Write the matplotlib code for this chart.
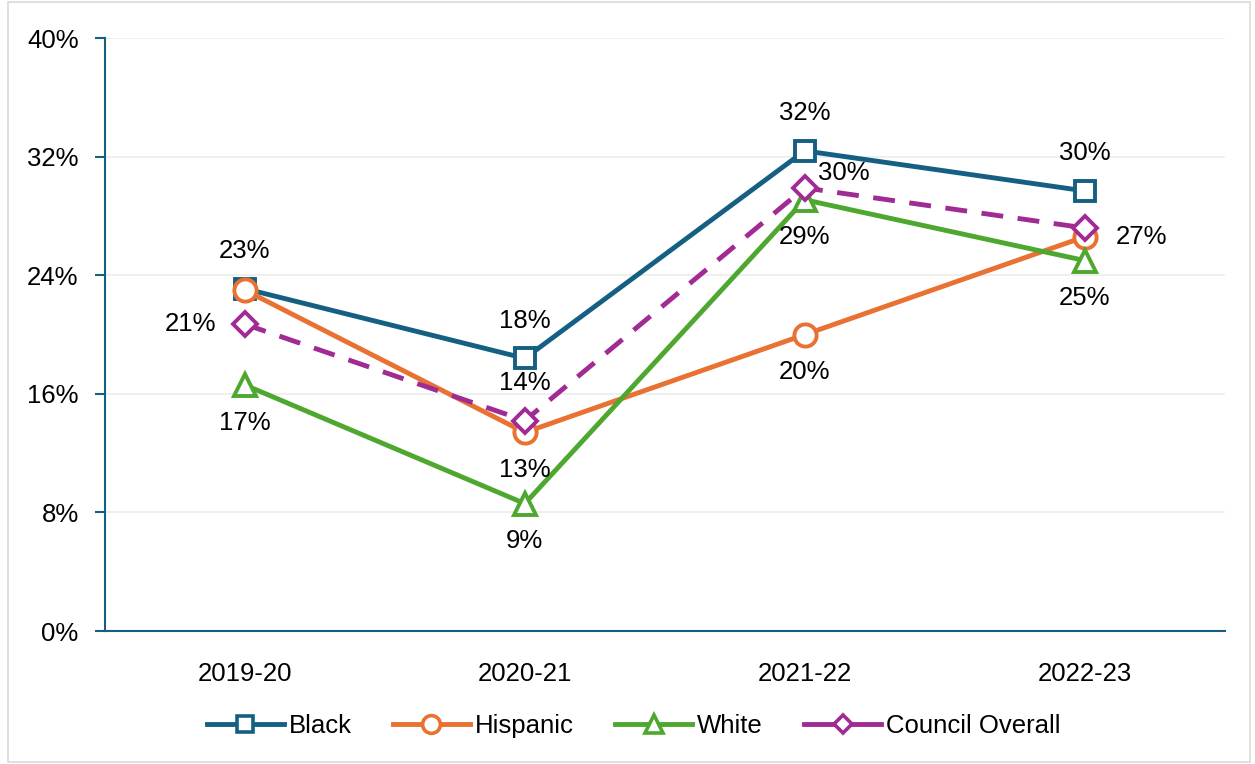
import matplotlib.pyplot as plt
from matplotlib.patches import Rectangle
from matplotlib.lines import Line2D
import numpy as np

years = ["2019-20", "2020-21", "2021-22", "2022-23"]
black = [23.1, 18.4, 32.4, 29.7]
hispanic = [23.0, 13.4, 20.0, 26.6]
white = [16.6, 8.6, 29.1, 25.0]
council = [20.7, 14.2, 29.9, 27.2]

# label placement per point, None means no label
black_pos = ["above", "above", "above", "above"]
hispanic_pos = [None, "below", "below", "right"]
white_pos = ["below", "below", "below", "below"]
council_pos = ["left", "above", "upright", None]

plt.rcParams["font.family"] = ["Liberation Sans", "DejaVu Sans"]

fig = plt.figure(figsize=(12.55, 7.64), dpi=100)
ax = fig.add_axes([0.0837, 0.174, 0.892, 0.776])

fig.patches.append(Rectangle((0.006, 0.003), 0.99, 0.994, transform=fig.transFigure,
                             fill=False, edgecolor="#d9d9d9", linewidth=1.2))

x = np.arange(len(years))
series = [
    ("Black", black, black_pos, "#156082", "s", "-"),
    ("Hispanic", hispanic, hispanic_pos, "#E97132", "o", "-"),
    ("White", white, white_pos, "#4EA72E", "^", "-"),
    ("Council Overall", council, council_pos, "#A02B93", "D", (0, (4.5, 3))),
]

offsets = {"above": (0, 27), "below": (0, -27), "left": (-39, 0),
           "right": (41, 0), "upright": (28, 11)}

handles = []
for name, vals, pos, col, mk, ls in series:
    ms = {"s": 15, "o": 16, "^": 16, "D": 12}[mk]
    ax.plot(x, vals, color=col, linewidth=3.5, linestyle=ls, marker=mk,
            markersize=ms, markerfacecolor="white", markeredgecolor=col,
            markeredgewidth=2.8, zorder=3)
    handles.append(Line2D([], [], color=col, linewidth=3.5, linestyle="-", marker=mk,
                          markersize=ms * 0.8, markerfacecolor="white",
                          markeredgecolor=col, markeredgewidth=2.6))
    for xi, v, p in zip(x, vals, pos):
        if p is None:
            continue
        ax.annotate(f"{v:.0f}%", (xi, v), xytext=offsets[p], textcoords="offset points",
                    ha="center", va="center", fontsize=18.5, color="#000000", zorder=4)

ax.set_xlim(-0.5, 3.5)
ax.set_ylim(0, 40)
ax.set_yticks([0, 8, 16, 24, 32, 40])
ax.set_yticklabels([f"{t}%" for t in [0, 8, 16, 24, 32, 40]])
ax.set_xticks(x)
ax.set_xticklabels(years)
ax.grid(axis="y", color="#ececec", linewidth=1.2, zorder=0)
ax.set_axisbelow(True)
for s in ["top", "right"]:
    ax.spines[s].set_visible(False)
ax.spines["left"].set_color("#156082")
ax.spines["left"].set_linewidth(1.5)
ax.spines["bottom"].set_color("#156082")
ax.spines["bottom"].set_linewidth(1.5)
ax.tick_params(axis="y", colors="#156082", length=7, width=1.5, labelsize=18.5,
               labelcolor="#000000", pad=12)
ax.tick_params(axis="x", length=0, labelsize=18.5, labelcolor="#000000", pad=22)

fig.legend(handles=handles, labels=[s[0] for s in series], loc="center",
           bbox_to_anchor=(0.505, 0.05), ncol=4, frameon=False, fontsize=18.5,
           handlelength=3, columnspacing=1.6, handletextpad=0.2)

fig.savefig("out.png", dpi=100)
